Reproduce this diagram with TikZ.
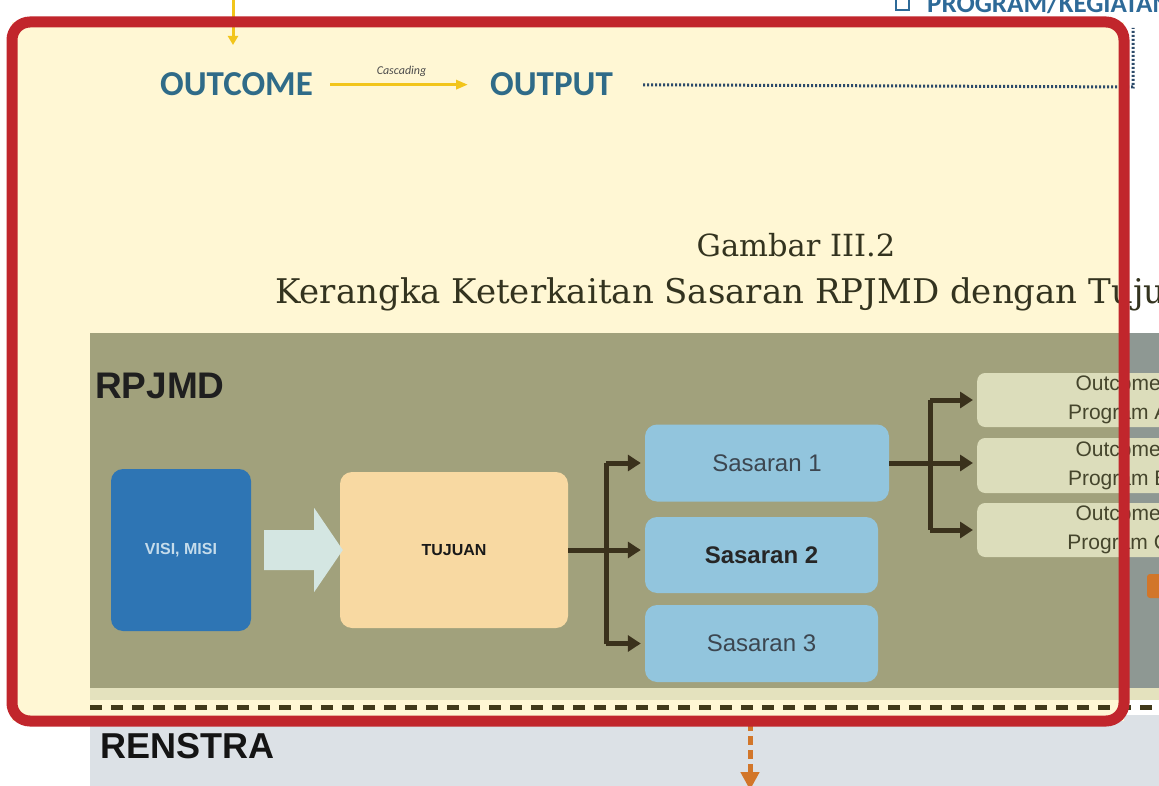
\documentclass[tikz,border=0pt]{standalone}
\usepackage{fontspec}
\newfontfamily\capfont{DejaVu Serif}
\newfontfamily\arialfont{Liberation Sans}
\newfontfamily\calfont{Carlito}
\usetikzlibrary{arrows.meta,calc}
\definecolor{cream}{HTML}{FFF7D4}
\definecolor{framered}{HTML}{C1262C}
\definecolor{panel}{HTML}{A1A17C}
\definecolor{panelR}{HTML}{8E9893}
\definecolor{bandc}{HTML}{E4E2BE}
\definecolor{visiblue}{HTML}{2E75B4}
\definecolor{visitext}{HTML}{C5DCEB}
\definecolor{tujuanc}{HTML}{F8D9A2}
\definecolor{sasc}{HTML}{92C5DD}
\definecolor{sastext}{HTML}{3C4650}
\definecolor{outc}{HTML}{DCDDBB}
\definecolor{outtext}{HTML}{45452C}
\definecolor{connc}{HTML}{3A311C}
\definecolor{tealc}{HTML}{2F6B88}
\definecolor{yelc}{HTML}{F2C51B}
\definecolor{graybg}{HTML}{DCE1E6}
\definecolor{orngc}{HTML}{D2762A}
\definecolor{arrowc}{HTML}{D4E6E2}
\definecolor{captc}{HTML}{33331F}
\definecolor{progblue}{HTML}{2E6A98}
\definecolor{dotc}{HTML}{2C4A6A}
\tikzset{
  box/.style={rounded corners=12pt, inner sep=0pt},
  sasbox/.style={box, fill=sasc, minimum height=77pt, font=\arialfont\fontsize{24}{26}\selectfont, text=sastext},
  outbox/.style={rounded corners=8pt, fill=outc, inner sep=0pt, minimum width=282pt, minimum height=54pt, align=center,
     font=\arialfont\fontsize{21}{29}\selectfont, text=outtext},
  connl/.style={draw=connc, line width=5pt},
  connarr/.style={connl, -{Triangle[length=13pt,width=16pt]}, shorten >=4pt},
  bigtext/.style={inner sep=0pt, font=\calfont\bfseries\fontsize{35}{40}\selectfont, text=tealc},
  captext/.style={inner sep=0pt, text=captc, font=\capfont\fontsize{34}{38}\selectfont},
}
\begin{document}
\begin{tikzpicture}[x=1pt,y=-1pt]
\useasboundingbox (0,0) rectangle (1159,786);
\clip (0,0) rectangle (1159,786);
\fill[white] (0,0) rectangle (1159,786);
% lower grey area
\fill[graybg] (90,715) rectangle (1159,786);
% cream page
\fill[cream] (12,22) rectangle (1124,721);
% RPJMD panel
\fill[panel] (90,333) rectangle (1159,688);
\fill[panelR] (1126,333) rectangle (1159,690);
\fill[bandc] (90,688) rectangle (1159,700);
\draw[connc!90!olive, line width=5pt, dash pattern=on 12pt off 9pt] (90,707) -- (1159,707);

% top area
\coordinate (ytop) at (233,0);
\coordinate (ytip) at (233,45);
\draw[yelc, line width=3pt, -{Triangle[length=9pt,width=10pt]}] (ytop) -- (ytip);
\node[bigtext, anchor=base west] (outcome) at (160,96) {OUTCOME};
\node[bigtext, anchor=base west] (output) at (490,96) {OUTPUT};
\draw[yelc, line width=3pt, -{Triangle[length=12pt,width=9pt]}, shorten <=17pt, shorten >=22pt]
  (outcome.east) -- node[above=3pt, text=black!70, font=\calfont\itshape\fontsize{12}{14}\selectfont] (casc) {Cascading} (output.west);
\coordinate (pk) at (1133,28);
\draw[dotc, line width=3pt, dash pattern=on 2pt off 2pt, shorten <=30pt] (output.east) -- (1133,87) -- (pk);
\node[anchor=base west, inner sep=0pt, text=progblue, font=\calfont\bfseries\fontsize{27}{30}\selectfont] (prog) at (927,13) {PROGRAM/KEGIATAN};
\draw[progblue, line width=2pt] (896,-4) rectangle (909,10);

% caption
\node[captext, font=\capfont\fontsize{30.5}{34}\selectfont, anchor=base] (cap1) at (796,257) {Gambar III.2};
\node[captext, anchor=base west] (cap2) at (275,304) {Kerangka Keterkaitan Sasaran RPJMD dengan Tujuan};

% RPJMD content
\node[anchor=base west, inner sep=0pt, font=\arialfont\bfseries\fontsize{37}{40}\selectfont, text=black!88] (rpjmd) at (95,398) {RPJMD};
\node[box, fill=visiblue, minimum width=140pt, minimum height=162pt, font=\arialfont\bfseries\fontsize{16}{18}\selectfont, text=visitext] (visi) at (181,550) {VISI, MISI};
\node[box, fill=tujuanc, minimum width=228pt, minimum height=156pt, font=\arialfont\bfseries\fontsize{16}{18}\selectfont, text=black!90] (tujuan) at (454,550) {TUJUAN};
\fill[arrowc] ($(visi.east)+(13,-20)$) -- ($(visi.east)+(63,-20)$) -- ($(visi.east)+(63,-42)$) -- ($(tujuan.west)+(3,0)$) -- ($(visi.east)+(63,42)$) -- ($(visi.east)+(63,20)$) -- ($(visi.east)+(13,20)$) -- cycle;

\node[sasbox, minimum width=244pt] (s1) at (767,463) {Sasaran 1};
\node[sasbox, minimum width=233pt, minimum height=76pt, font=\arialfont\bfseries\fontsize{24}{26}\selectfont, text=black!85] (s2) at (761.5,555) {Sasaran 2};
\node[sasbox, minimum width=233pt] (s3) at (761.5,643.5) {Sasaran 3};

\coordinate (j1) at ($(tujuan.east)+(38,0)$);
\draw[connl] (tujuan.east) -- (j1);
\draw[connl] (j1 |- s1.west) -- (j1 |- s3.west);
\draw[connarr] (j1 |- s1.west) -- (s1.west);
\draw[connarr] (j1) -- (j1 -| s2.west);
\draw[connarr] (j1 |- s3.west) -- (s3.west);

\node[outbox, anchor=west] (o1) at (977,400) {Outcome\\Program A};
\node[outbox, anchor=west, minimum height=55pt] (o2) at (977,465.5) {Outcome\\Program B};
\node[outbox, anchor=west] (o3) at (977,530) {Outcome\\Program C};

\coordinate (j2) at (930,463);
\draw[connl] (s1.east) -- (j2);
\draw[connl] (j2 |- o1.west) -- (j2 |- o3.west);
\draw[connarr] (j2 |- o1.west) -- (o1.west);
\draw[connarr] (j2) -- (j2 -| o2.west);
\draw[connarr] (j2 |- o3.west) -- (o3.west);

\fill[orngc, rounded corners=3pt] (1147,574) rectangle (1162,598);

% below
\node[anchor=base west, inner sep=0pt, font=\arialfont\bfseries\fontsize{36}{40}\selectfont, text=black!92] (renstra) at (100,758) {RENSTRA};
\coordinate (ostart) at (750,722);
\coordinate (oend) at (750,790);
\draw[orngc, line width=5pt, dash pattern=on 9pt off 5pt, -{Triangle[length=18pt,width=18pt]}] (ostart) -- (oend);

% red frame
\draw[framered, line width=11pt, rounded corners=18pt] (12,22) rectangle (1124,721);
\end{tikzpicture}
\end{document}
